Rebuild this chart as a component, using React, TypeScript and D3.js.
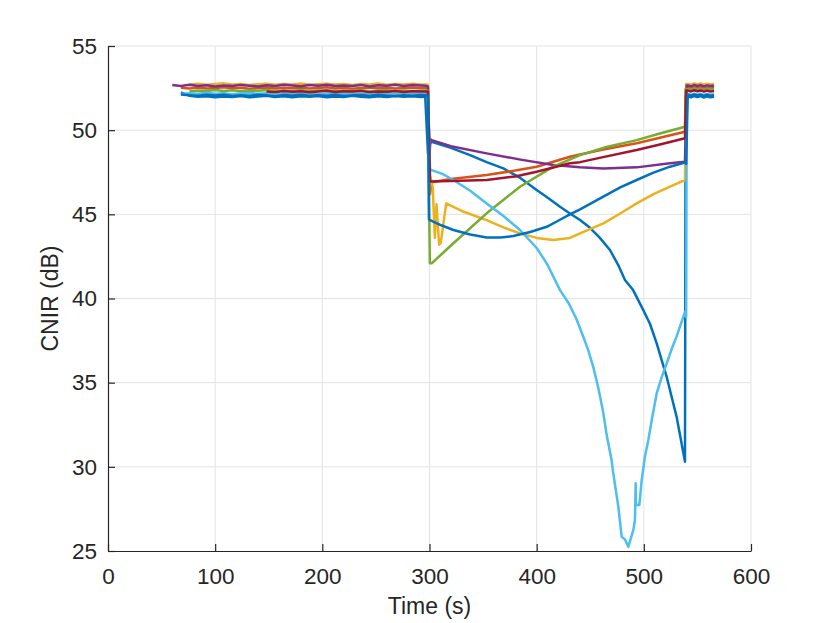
import { useEffect, useRef } from "react";
import * as d3 from "d3";

const xTicks = [0, 100, 200, 300, 400, 500, 600];
const yTicks = [25, 30, 35, 40, 45, 50, 55];

// time samples of the flat part before the drop, and after the recovery
const tFlat = [60, 68, 76, 84, 92, 100, 108, 116, 124, 132, 140, 148, 156, 164, 172, 180, 188, 196, 204, 212, 220, 228, 236, 244, 252, 260, 268, 276, 284, 292];
const tEnd = [541, 544, 547, 550, 553, 556, 559, 562, 565.5];

const blueAFlat = [null, 52.25, 52.05, 51.98, 52.02, 51.95, 52.0, 51.97, 52.03, 51.96, 52.0, 52.04, 51.97, 52.01, 51.95, 52.02, 51.98, 52.03, 51.96, 52.0, 51.97, 52.04, 51.98, 51.95, 52.02, 51.97, 52.03, 51.99, 52.01, 51.97];
const blueAMid = [[296, 52.0], [298.6, 48.6], [300, 49.2], [302, 49.31], [320, 48.95], [337.8, 48.52], [353.3, 48.1], [368.9, 47.73], [385, 47.15], [400, 46.44], [411, 45.95], [421.8, 45.45], [431, 45.05], [440.5, 44.66], [449.8, 44.2], [459, 43.6], [468.4, 42.88], [476, 42.0], [482.4, 41.1], [490, 40.5], [499.5, 39.31], [505.7, 38.5], [512, 37.33], [521.3, 35.35], [530.6, 32.97], [538.4, 30.3], [539, 52.0]];
const blueAEnd = [52.0, 51.95, 52.03, 51.96, 52.02, 51.94, 52.01, 51.96, 51.99];

const orangeFlat = [null, 52.52, 52.48, 52.53, 52.47, 52.51, 52.55, 52.49, 52.52, 52.46, 52.5, 52.54, 52.48, 52.52, 52.49, 52.53, 52.47, 52.51, 52.55, 52.48, 52.52, 52.46, 52.5, 52.53, 52.49, 52.52, 52.47, 52.51, 52.54, 52.5];
const orangeMid = [[296, 52.5], [298.5, 52.5], [300.5, 46.2], [302, 46.9], [320, 47.1], [353.3, 47.34], [380, 47.6], [400, 47.83], [431, 48.42], [440.5, 48.55], [462, 48.85], [493.3, 49.22], [515, 49.55], [538.4, 49.91], [539.5, 52.5]];
const orangeEnd = [52.52, 52.47, 52.54, 52.48, 52.53, 52.46, 52.52, 52.48, 52.5];

const yellowFlat = [null, null, 52.72, 52.76, 52.7, 52.74, 52.78, 52.71, 52.75, 52.69, 52.73, 52.76, 52.7, 52.74, 52.72, 52.77, 52.7, 52.73, 52.76, 52.71, 52.74, 52.69, 52.75, 52.72, 52.77, 52.7, 52.74, 52.71, 52.76, 52.72];
const yellowMid = [[296, 52.72], [298.5, 52.7], [300.5, 47.3], [303, 46.6], [305, 43.6], [306.5, 45.6], [309, 43.2], [310.5, 43.3], [315.6, 45.65], [330, 45.2], [353.3, 44.66], [370, 44.2], [384.4, 43.87], [400, 43.6], [415.5, 43.47], [431, 43.6], [440.5, 43.87], [462.2, 44.46], [478, 45.05], [493.3, 45.65], [509, 46.2], [524.4, 46.64], [538.4, 47.04], [539.5, 52.75]];
const yellowEnd = [52.75, 52.7, 52.78, 52.72, 52.77, 52.7, 52.76, 52.71, 52.74];

const purpleFlat = [52.68, 52.62, 52.7, 52.63, 52.67, 52.6, 52.66, 52.62, 52.69, 52.64, 52.6, 52.67, 52.63, 52.7, 52.65, 52.61, 52.68, 52.64, 52.7, 52.62, 52.66, 52.63, 52.69, 52.6, 52.67, 52.64, 52.7, 52.62, 52.68, 52.65];
const purpleMid = [[296, 52.64], [298.5, 52.6], [300, 48.6], [301, 49.45], [302, 49.41], [320, 49.05], [353.3, 48.62], [385, 48.25], [415.5, 47.93], [440.5, 47.79], [462.2, 47.73], [493.3, 47.79], [524.4, 48.03], [538.4, 48.13], [540, 52.65]];
const purpleEnd = [52.65, 52.6, 52.68, 52.62, 52.67, 52.6, 52.66, 52.62, 52.64];

const greenFlat = [null, null, 52.3, 52.36, 52.32, 52.38, 52.33, 52.37, 52.31, 52.36, 52.34, 52.39, 52.32, 52.36, 52.33, 52.38, 52.31, 52.35, 52.37, 52.32, 52.36, 52.34, 52.38, 52.31, 52.35, 52.37, 52.33, 52.36, 52.32, 52.35];
const greenMid = [[296, 52.35], [298.5, 52.35], [300.3, 42.1], [302, 42.09], [322.3, 43.28], [353.3, 45.06], [384.4, 46.64], [415.5, 47.83], [440.5, 48.52], [465, 49.0], [493.3, 49.41], [515, 49.8], [538.4, 50.2], [539, 52.45]];
const greenEnd = [52.45, 52.4, 52.47, 52.41, 52.46, 52.39, 52.45, 52.42, 52.44];

const lightBlueFlat = [null, 52.15, 52.2, 52.16, 52.22, 52.17, 52.2, 52.14, 52.19, 52.21, 52.16, 52.2, 52.15, 52.19, 52.22, 52.17, 52.2, 52.15, 52.18, 52.21, 52.16, 52.19, 52.14, 52.2, 52.17, 52.21, 52.16, 52.19, 52.15, 52.18];
const lightBlueMid = [[296, 52.18], [298.5, 52.18], [300.5, 47.6], [302, 47.63], [312, 47.4], [322.3, 47.04], [338, 46.4], [353.3, 45.65], [369, 44.9], [384.4, 44.07], [400, 43.0], [409.4, 42.09], [421.8, 40.5], [430, 39.7], [437.3, 38.75], [443.5, 37.73], [448, 36.95], [452.8, 35.94], [457.5, 34.7], [462.2, 33.2], [465.3, 31.9], [469.9, 30.4], [471.5, 29.61], [476.2, 27.63], [479.3, 25.85], [482.4, 25.69], [485.5, 25.25], [490.2, 26.24], [491.7, 26.84], [492.4, 29.02], [492.7, 27.73], [495.8, 27.73], [498, 29.21], [501, 30.6], [504.2, 31.59], [508, 33.0], [512, 34.36], [516.5, 35.3], [521.3, 36.14], [526, 37.0], [530.6, 37.75], [538.4, 39.21], [539.5, 38.9], [540, 52.15]];
const lightBlueEnd = [52.15, 52.1, 52.17, 52.11, 52.16, 52.09, 52.15, 52.1, 52.13];

const darkRedFlat = [null, null, null, null, null, null, null, null, null, null, null, 52.3, 52.26, 52.33, 52.28, 52.31, 52.25, 52.3, 52.34, 52.27, 52.31, 52.29, 52.33, 52.26, 52.3, 52.28, 52.32, 52.27, 52.31, 52.29];
const darkRedMid = [[296, 52.3], [298.5, 52.3], [300.5, 46.95], [320, 46.98], [353.3, 47.04], [380, 47.25], [400, 47.53], [431, 48.03], [440.5, 48.1], [462, 48.4], [493.3, 48.82], [515, 49.15], [538.4, 49.52], [539.5, 52.35]];
const darkRedEnd = [52.35, 52.3, 52.37, 52.31, 52.36, 52.29, 52.35, 52.3, 52.33];

const blueBFlat = [null, 52.12, 52.08, 52.04, 52.1, 52.06, 52.11, 52.03, 52.08, 52.05, 52.1, 52.07, 52.02, 52.09, 52.06, 52.11, 52.04, 52.08, 52.05, 52.1, 52.03, 52.07, 52.09, 52.05, 52.1, 52.06, 52.03, 52.08, 52.05, 52.09];
const blueBMid = [[296, 52.08], [298.5, 52.05], [299.5, 44.7], [300.5, 44.66], [311, 44.35], [322.3, 44.07], [338, 43.8], [353.3, 43.63], [366, 43.62], [378.2, 43.71], [394, 43.95], [409.4, 44.26], [420, 44.62], [431, 45.0], [440.5, 45.3], [462.2, 46.05], [478, 46.6], [493.3, 47.04], [509, 47.48], [524.4, 47.83], [538.4, 48.07], [539.5, 48.0], [541, 52.1]];
const blueBEnd = [52.1, 52.05, 52.12, 52.06, 52.11, 52.04, 52.1, 52.05, 52.08];

const series = [
  { color: "#0072BD", flat: blueAFlat, mid: blueAMid, end: blueAEnd },
  { color: "#D95319", flat: orangeFlat, mid: orangeMid, end: orangeEnd },
  { color: "#EDB120", flat: yellowFlat, mid: yellowMid, end: yellowEnd },
  { color: "#7E2F8E", flat: purpleFlat, mid: purpleMid, end: purpleEnd },
  { color: "#77AC30", flat: greenFlat, mid: greenMid, end: greenEnd },
  { color: "#4DBEEE", flat: lightBlueFlat, mid: lightBlueMid, end: lightBlueEnd },
  { color: "#A2142F", flat: darkRedFlat, mid: darkRedMid, end: darkRedEnd },
  { color: "#0072BD", flat: blueBFlat, mid: blueBMid, end: blueBEnd },
];

export default function App() {
  const svgRef = useRef<SVGSVGElement | null>(null);

  useEffect(() => {
    const W = 830, H = 623;
    const margin = { top: 46, right: 79, bottom: 72, left: 108 };
    const width = W - margin.left - margin.right;
    const height = H - margin.top - margin.bottom;
    const font = "'Liberation Sans', Arial, Helvetica, sans-serif";
    const ink = "#262626";

    const svg = d3.select(svgRef.current).attr("width", W).attr("height", H);
    svg.selectAll("*").remove();
    svg.append("rect").attr("width", W).attr("height", H).attr("fill", "#fff");

    const g = svg.append("g").attr("transform", `translate(${margin.left},${margin.top})`);

    const x = d3.scaleLinear().domain([0, 600]).range([0, width]);
    const y = d3.scaleLinear().domain([25, 55]).range([height, 0]);

    // grid
    g.append("g").selectAll("line").data(xTicks.slice(1)).join("line")
      .attr("x1", d => x(d)).attr("x2", d => x(d)).attr("y1", 0).attr("y2", height)
      .attr("stroke", "#e3e3e3").attr("stroke-width", 1);
    g.append("g").selectAll("line").data(yTicks.slice(1)).join("line")
      .attr("y1", d => y(d)).attr("y2", d => y(d)).attr("x1", 0).attr("x2", width)
      .attr("stroke", "#e3e3e3").attr("stroke-width", 1);

    // axes (ticks point inward)
    const xAxis = g.append("g").attr("transform", `translate(0,${height})`)
      .call(d3.axisBottom(x).tickValues(xTicks).tickSizeInner(-7).tickSizeOuter(0).tickPadding(18));
    const yAxis = g.append("g")
      .call(d3.axisLeft(y).tickValues(yTicks).tickSizeInner(-7).tickSizeOuter(0).tickPadding(11));
    [xAxis, yAxis].forEach(a => {
      a.select(".domain").attr("stroke", ink).attr("stroke-width", 1.2);
      a.selectAll(".tick line").attr("stroke", ink).attr("stroke-width", 1.2);
      a.selectAll("text").attr("fill", ink).style("font-family", font).style("font-size", "22.5px");
    });
    xAxis.selectAll(".tick text").attr("dy", "0.71em").attr("y", 17);

    // lines
    const line = d3.line<number[]>().x(d => x(d[0])).y(d => y(d[1]));
    series.forEach(s => {
      const pts: number[][] = [
        ...tFlat.map((t, i) => [t, s.flat[i]]).filter(d => d[1] != null) as number[][],
        ...s.mid,
        ...tEnd.map((t, i) => [t, s.end[i]]),
      ];
      g.append("path").datum(pts)
        .attr("fill", "none").attr("stroke", s.color).attr("stroke-width", 2.5)
        .attr("stroke-linejoin", "round").attr("d", line);
    });

    // labels
    svg.append("text")
      .attr("x", margin.left + width / 2).attr("y", 614)
      .attr("text-anchor", "middle").attr("fill", ink)
      .style("font-family", font).style("font-size", "23px")
      .text("Time (s)");
    svg.append("text")
      .attr("transform", `translate(58,${margin.top + height / 2}) rotate(-90)`)
      .attr("text-anchor", "middle").attr("fill", ink)
      .style("font-family", font).style("font-size", "23px")
      .text("CNIR (dB)");
  }, []);

  return (
    <div style={{ position: "absolute", left: 0, top: 0 }}>
      <svg ref={svgRef}></svg>
    </div>
  );
}
